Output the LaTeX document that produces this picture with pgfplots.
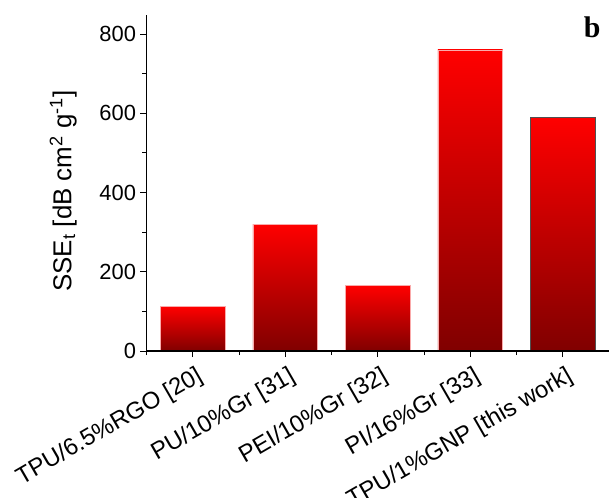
\documentclass[border=0pt]{standalone}
\usepackage{pgfplots}
\pgfplotsset{compat=1.18}
\usepackage{fontspec}
\setmainfont{Liberation Sans}
\newfontfamily\serifbold{Liberation Serif}
\definecolor{darkred}{RGB}{128,0,0}
\definecolor{midred}{RGB}{195,0,0}
\definecolor{pinkedge}{RGB}{250,170,170}
\definecolor{grayedge}{RGB}{80,80,80}
\pgfplotsset{
  redbar/.style={ybar, bar width=0.7, bar shift=0pt, draw=pinkedge, line width=0.6bp, shade, top color=red, middle color=midred, bottom color=darkred},
}
\begin{document}
\begin{tikzpicture}[x=1bp,y=1bp]
\begin{axis}[
  at={(0,0)}, anchor=south west,
  scale only axis,
  width=462.5bp, height=336bp,
  xmin=0.5, xmax=5.5,
  ymin=0, ymax=848,
  axis x line*=bottom, axis y line*=left,
  x axis line style={line width=1.8bp, -},
  y axis line style={line width=1bp, -},
  axis on top,
  xtick={1,2,3,4,5},
  minor xtick={0.5,1.5,2.5,3.5,4.5,5.5},
  xticklabels={TPU/6.5\%RGO [20], PU/10\%Gr [31], PEI/10\%Gr [32], PI/16\%Gr [33], TPU/1\%GNP [this work]},
  ytick={0,200,400,600,800},
  minor ytick={100,300,500,700},
  tick align=outside,
  major tick length=6bp, minor tick length=4bp,
  tick style={black, line width=0.8bp},
  every tick label/.append style={font=\fontsize{22}{24}\selectfont},
  xticklabel style={font=\fontsize{24}{26}\selectfont, rotate=30, anchor=north east, xshift=-1bp, yshift=-7bp, inner sep=1bp},
  /pgf/number format/assume math mode=true,
  yticklabel style={xshift=-1bp},
  ylabel={SSE\textsubscript{t} [dB cm\textsuperscript{2} g\textsuperscript{-1}]},
  ylabel style={font=\fontsize{26}{28}\selectfont, at={(axis description cs:-0.18,0.476)}, anchor=center},
  clip=false,
]
\addplot[redbar] coordinates {(1,112)};
\addplot[redbar] coordinates {(2,320)};
\addplot[redbar] coordinates {(3,165)};
\addplot[redbar] coordinates {(4,760)};
\addplot[redbar, draw=grayedge, line width=1bp] coordinates {(5,589)};
\node[font=\serifbold\bfseries\fontsize{30}{32}\selectfont, anchor=base east] at (rel axis cs:0.989,0.934) {b};
\end{axis}
\pgfresetboundingbox
\path[use as bounding box] (-146.5bp,-147bp) rectangle (462.5bp,351bp);
\end{tikzpicture}
\end{document}
